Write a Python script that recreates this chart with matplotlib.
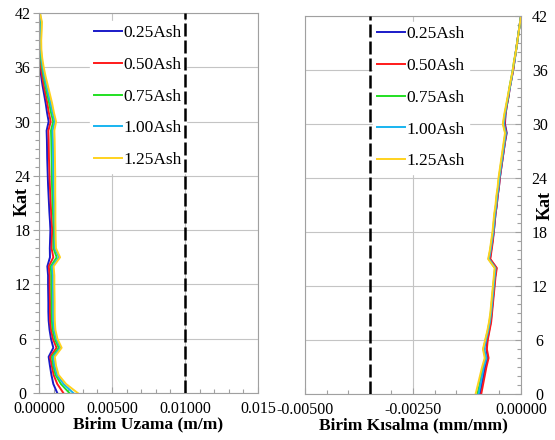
import matplotlib
matplotlib.use("Agg")
import matplotlib.pyplot as plt
from matplotlib.ticker import MultipleLocator

plt.rcParams["font.family"] = ["Liberation Serif", "DejaVu Serif"]

# floor numbers (Kat)
floors = list(range(43))

series_labels = ["0.25Ash", "0.50Ash", "0.75Ash", "1.00Ash", "1.25Ash"]
series_colors = ["#1a1ac8", "#ff1a1a", "#22e022", "#18b4f0", "#ffd21e"]

# tension strain per floor (m/m)
uzama_025 = [0.00125, 0.00098, 0.00085, 0.00075, 0.00066, 0.00098, 0.00082, 0.00072, 0.00066, 0.00064,
             0.00064, 0.00063, 0.00062, 0.00062, 0.00057, 0.00075, 0.00074, 0.00076, 0.00078, 0.00075,
             0.00071, 0.00068, 0.00065, 0.00062, 0.00060, 0.00058, 0.00056, 0.00055, 0.00054, 0.00052,
             0.00066, 0.00055, 0.00046, 0.00035, 0.00024, 0.00015, 0.00008, 0.00005, 0.00003, 0.00002,
             0.00003, 0.00004, 0.00003]
uzama_050 = [0.00167, 0.00125, 0.00100, 0.00088, 0.00076, 0.00120, 0.00095, 0.00082, 0.00076, 0.00075,
             0.00075, 0.00074, 0.00073, 0.00073, 0.00067, 0.00098, 0.00086, 0.00088, 0.00090, 0.00087,
             0.00083, 0.00080, 0.00077, 0.00074, 0.00072, 0.00070, 0.00068, 0.00067, 0.00066, 0.00064,
             0.00080, 0.00067, 0.00057, 0.00045, 0.00032, 0.00022, 0.00013, 0.00008, 0.00005, 0.00004,
             0.00005, 0.00006, 0.00004]
uzama_075 = [0.00208, 0.00150, 0.00113, 0.00098, 0.00088, 0.00135, 0.00107, 0.00093, 0.00088, 0.00087,
             0.00087, 0.00086, 0.00085, 0.00085, 0.00080, 0.00121, 0.00099, 0.00100, 0.00102, 0.00099,
             0.00095, 0.00093, 0.00091, 0.00089, 0.00088, 0.00087, 0.00086, 0.00085, 0.00084, 0.00082,
             0.00097, 0.00082, 0.00070, 0.00056, 0.00043, 0.00031, 0.00020, 0.00013, 0.00009, 0.00008,
             0.00009, 0.00010, 0.00005]
uzama_100 = [0.00235, 0.00168, 0.00124, 0.00107, 0.00098, 0.00148, 0.00118, 0.00103, 0.00098, 0.00097,
             0.00097, 0.00096, 0.00095, 0.00095, 0.00090, 0.00138, 0.00108, 0.00108, 0.00108, 0.00106,
             0.00104, 0.00103, 0.00101, 0.00100, 0.00099, 0.00098, 0.00097, 0.00096, 0.00095, 0.00093,
             0.00108, 0.00093, 0.00080, 0.00065, 0.00050, 0.00037, 0.00025, 0.00017, 0.00013, 0.00012,
             0.00014, 0.00016, 0.00006]
uzama_125 = [0.00265, 0.00185, 0.00134, 0.00117, 0.00108, 0.00155, 0.00126, 0.00112, 0.00108, 0.00107,
             0.00107, 0.00106, 0.00105, 0.00105, 0.00100, 0.00144, 0.00116, 0.00114, 0.00113, 0.00112,
             0.00112, 0.00112, 0.00111, 0.00111, 0.00111, 0.00110, 0.00109, 0.00108, 0.00107, 0.00105,
             0.00117, 0.00102, 0.00090, 0.00075, 0.00060, 0.00045, 0.00032, 0.00022, 0.00016, 0.00015,
             0.00018, 0.00020, 0.00007]

# compression strain per floor (mm/mm)
kisalma_025 = [-0.00095, -0.00091, -0.00087, -0.00083, -0.00077, -0.00080, -0.00078, -0.00074, -0.00070, -0.00068,
               -0.00066, -0.00064, -0.00062, -0.00060, -0.00057, -0.00072, -0.00069, -0.00066, -0.00063, -0.00061,
               -0.00059, -0.00056, -0.00054, -0.00051, -0.00049, -0.00046, -0.00043, -0.00040, -0.00037, -0.00033,
               -0.00037, -0.00036, -0.00033, -0.00029, -0.00026, -0.00022, -0.00018, -0.00015, -0.00012, -0.00009,
               -0.00006, -0.00003, 0.00000]
kisalma_050 = [-0.00092, -0.00088, -0.00084, -0.00080, -0.00075, -0.00079, -0.00077, -0.00073, -0.00069, -0.00067,
               -0.00065, -0.00063, -0.00061, -0.00059, -0.00056, -0.00071, -0.00068, -0.00065, -0.00063, -0.00061,
               -0.00059, -0.00056, -0.00054, -0.00051, -0.00049, -0.00046, -0.00043, -0.00040, -0.00037, -0.00034,
               -0.00038, -0.00036, -0.00033, -0.00029, -0.00026, -0.00022, -0.00018, -0.00015, -0.00012, -0.00009,
               -0.00006, -0.00003, 0.00000]
kisalma_075 = [-0.00101, -0.00096, -0.00092, -0.00088, -0.00082, -0.00087, -0.00082, -0.00077, -0.00073, -0.00070,
               -0.00068, -0.00066, -0.00064, -0.00062, -0.00060, -0.00075, -0.00071, -0.00068, -0.00065, -0.00063,
               -0.00061, -0.00058, -0.00056, -0.00053, -0.00051, -0.00048, -0.00045, -0.00042, -0.00039, -0.00036,
               -0.00041, -0.00038, -0.00034, -0.00030, -0.00027, -0.00023, -0.00019, -0.00016, -0.00012, -0.00009,
               -0.00006, -0.00003, 0.00000]
kisalma_100 = [-0.00098, -0.00094, -0.00090, -0.00086, -0.00080, -0.00085, -0.00081, -0.00076, -0.00072, -0.00069,
               -0.00067, -0.00065, -0.00063, -0.00061, -0.00059, -0.00074, -0.00070, -0.00067, -0.00064, -0.00062,
               -0.00060, -0.00057, -0.00055, -0.00052, -0.00050, -0.00047, -0.00044, -0.00041, -0.00038, -0.00035,
               -0.00040, -0.00037, -0.00034, -0.00030, -0.00026, -0.00022, -0.00019, -0.00015, -0.00012, -0.00009,
               -0.00006, -0.00003, 0.00000]
kisalma_125 = [-0.00105, -0.00100, -0.00095, -0.00090, -0.00084, -0.00088, -0.00083, -0.00078, -0.00074, -0.00071,
               -0.00069, -0.00067, -0.00065, -0.00063, -0.00061, -0.00076, -0.00072, -0.00069, -0.00066, -0.00064,
               -0.00062, -0.00059, -0.00057, -0.00054, -0.00052, -0.00049, -0.00046, -0.00043, -0.00040, -0.00037,
               -0.00042, -0.00039, -0.00035, -0.00031, -0.00027, -0.00023, -0.00019, -0.00016, -0.00012, -0.00009,
               -0.00006, -0.00003, 0.00000]

uzama_series = [uzama_025, uzama_050, uzama_075, uzama_100, uzama_125]
kisalma_series = [kisalma_025, kisalma_050, kisalma_075, kisalma_100, kisalma_125]

# strain limits (dashed lines)
uzama_limit = 0.01
kisalma_limit = -0.0035

uzama_ticks = [0.0, 0.005, 0.01, 0.015]
uzama_ticklabels = ["0.00000", "0.00500", "0.01000", "0.015"]
kisalma_ticks = [-0.005, -0.0025, 0.0]
kisalma_ticklabels = ["-0.00500", "-0.00250", "0.00000"]
kat_ticks = list(range(0, 43, 6))

fig = plt.figure(figsize=(5.55, 4.4), dpi=100)
ax1 = fig.add_axes([0.0703, 0.1068, 0.3946, 0.8636])
ax2 = fig.add_axes([0.5495, 0.1045, 0.3892, 0.8591])

grey = "#a0a0a0"


def style_axes(ax):
    ax.set_ylim(0, 42)
    ax.set_yticks(kat_ticks)
    ax.yaxis.set_minor_locator(MultipleLocator(1))
    ax.grid(True, which="major", color="#c4c4c4", lw=0.8)
    for sp in ax.spines.values():
        sp.set_color(grey)
        sp.set_linewidth(0.8)
    ax.tick_params(which="both", color=grey, width=0.8, labelsize=11.5)
    ax.tick_params(which="major", length=4)
    ax.tick_params(which="minor", length=3)


legend_kw = dict(loc="upper left", fontsize=12.5, frameon=True, fancybox=False,
                 framealpha=1, edgecolor="white", borderaxespad=0, borderpad=0.25,
                 labelspacing=0.9, handlelength=1.6, handletextpad=0.08)

# left panel: Birim Uzama
style_axes(ax1)
for vals, lab, col in zip(uzama_series, series_labels, series_colors):
    ax1.plot(vals, floors, color=col, lw=1.4, label=lab)
ax1.axvline(uzama_limit, color="black", lw=1.8, dashes=(5.2, 1.6), zorder=6)
ax1.set_xlim(0, 0.015)
ax1.set_xticks(uzama_ticks, uzama_ticklabels)
ax1.xaxis.set_minor_locator(MultipleLocator(0.001))
ax1.tick_params(axis="x", which="both", direction="in", pad=6)
ax1.tick_params(axis="y", which="both", direction="out", pad=8)
for t in ax1.get_yticklabels():
    t.set_ha("center")
ax1.set_xlabel("Birim Uzama (m/m)", fontsize=12.5, fontweight="bold", labelpad=-1)
ax1.set_ylabel("Kat", fontsize=13, fontweight="bold")
ax1.yaxis.set_label_coords(-0.078, 0.505)
ax1.yaxis.label.set_va("center")
ax1.legend(bbox_to_anchor=(0.233, 0.98), **legend_kw)

# right panel: Birim Kisalma
style_axes(ax2)
for vals, lab, col in zip(kisalma_series, series_labels, series_colors):
    ax2.plot(vals, floors, color=col, lw=1.4, label=lab)
ax2.axvline(kisalma_limit, color="black", lw=1.8, dashes=(5.2, 1.6), zorder=6)
ax2.set_xlim(-0.005, 0)
ax2.set_xticks(kisalma_ticks, kisalma_ticklabels)
ax2.xaxis.set_minor_locator(MultipleLocator(0.0005))
ax2.yaxis.tick_right()
ax2.yaxis.set_label_position("right")
ax2.tick_params(axis="x", which="both", direction="in", pad=6)
ax2.tick_params(axis="y", which="both", direction="in", pad=13.5)
for t in ax2.get_yticklabels():
    t.set_ha("center")
ax2.set_xlabel("Birim Kısalma (mm/mm)", fontsize=12.5, fontweight="bold", labelpad=-1)
ax2.set_ylabel("Kat", fontsize=13, fontweight="bold")
ax2.yaxis.set_label_coords(1.11, 0.5)
ax2.yaxis.label.set_va("center")
ax2.legend(bbox_to_anchor=(0.315, 0.985), **legend_kw)

fig.savefig("out.png", dpi=100)
